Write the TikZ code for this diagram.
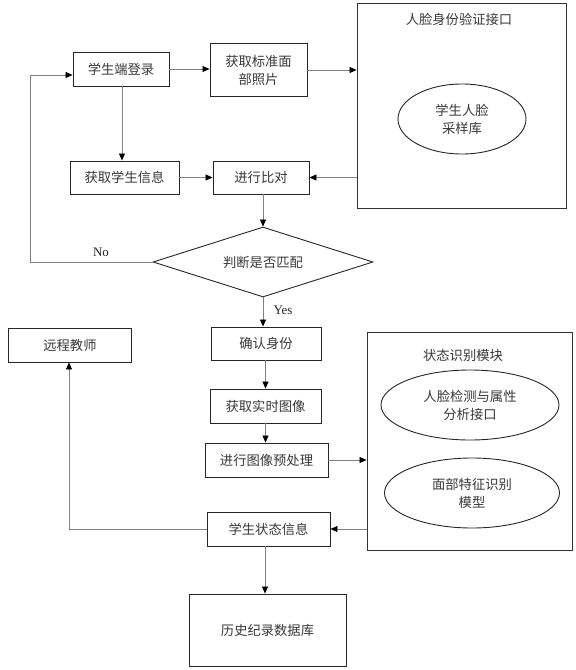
\documentclass[tikz,border=0pt]{standalone}
\usepackage{fontspec}
\setmainfont{Liberation Serif}
\newfontfamily\cjk{Noto Sans CJK SC}
\usetikzlibrary{shapes.geometric,arrows.meta}
\begin{document}
\begin{tikzpicture}[x=1pt,y=-1pt,
  every node/.style={font=\cjk\fontsize{13.3}{18}\selectfont, text=black!78, align=center, inner sep=0pt},
  box/.style={draw=black!85, line width=0.9pt, rectangle, fill=white},
  bigbox/.style={draw=black!80, line width=0.9pt, rectangle},
  oval/.style={draw=black!85, line width=0.9pt, ellipse},
  conn/.style={draw=black!50, line width=0.8pt, -{Triangle[length=7pt,width=6pt,fill=black,color=black]}},
  lab/.style={font=\fontsize{13}{15}\selectfont, text=black!85}]
\useasboundingbox (0,0) rectangle (576,670);
% top group
\node[box, minimum width=96pt, minimum height=34pt] (login) at (121,69) {学生端登录};
\node[box, minimum width=97pt, minimum height=53pt] (photo) at (258.5,70) {获取标准面\\部照片};
\node[bigbox, minimum width=209pt, minimum height=205pt] (verify) at (461.5,105.5) {};
\node (verifyt) at (459,19) {人脸身份验证接口};
\node[oval, minimum width=128pt, minimum height=70pt] (sample) at (462,119) {学生人脸\\采样库};
\node[box, minimum width=109pt, minimum height=33pt] (info) at (124.5,177.5) {获取学生信息};
\node[box, minimum width=96pt, minimum height=33pt] (compare) at (261,177.5) {进行比对};
\node[draw=black!85, line width=0.9pt, diamond, aspect=3.14, minimum width=220pt, minimum height=70pt] (judge) at (263,262) {判断是否匹配};
% middle group
\node[box, minimum width=110pt, minimum height=33pt] (confirm) at (266,343.5) {确认身份};
\node[box, minimum width=123pt, minimum height=34pt] (teacher) at (70,345) {远程教师};
\node[box, minimum width=111pt, minimum height=34pt] (realtime) at (265.5,406) {获取实时图像};
\node[box, minimum width=123pt, minimum height=34pt] (preproc) at (266.5,460) {进行图像预处理};
\node[bigbox, minimum width=205pt, minimum height=218pt] (state) at (469.5,441) {};
\node (statet) at (463,355) {状态识别模块};
\node[oval, minimum width=178pt, minimum height=70pt] (detect) at (470,405) {人脸检测与属性\\分析接口};
\node[oval, minimum width=175pt, minimum height=70pt] (feature) at (472,493) {面部特征识别\\模型};
\node[box, minimum width=123pt, minimum height=34pt] (status) at (268.5,529) {学生状态信息};
\node[box, minimum width=157pt, minimum height=72pt] (history) at (267.5,630) {历史纪录数据库};
% loop corners
\coordinate (nol) at (30,262);
\coordinate (noup) at (30,75);
\coordinate (tl) at (69,529);
% connectors
\draw[conn] (login.east) -- (photo.west |- login.east);
\draw[conn] (photo.east) -- (verify.west |- photo.east);
\draw[conn] (login.south -| 122,0) -- (info.north -| 122,0);
\draw[conn] (info.east) -- (compare.west);
\draw[conn] (verify.west |- compare.east) -- (compare.east);
\draw[conn] (compare.south -| judge.north) -- (judge.north);
\draw[conn] (judge.west) -- (nol) -- (noup) -- (login.west |- noup);
\node[lab] (nolab) at (101,252) {No};
\draw[conn] (judge.south) -- (judge.south |- confirm.north);
\node[lab] (yeslab) at (283,310) {Yes};
\draw[conn] (confirm.south -| 265.5,0) -- (realtime.north);
\draw[conn] (realtime.south) -- (realtime.south |- preproc.north);
\draw[conn] (preproc.east) -- (state.west |- preproc.east);
\draw[conn] (state.west |- status.east) -- (status.east);
\draw[conn] (status.west) -- (tl) -- (teacher.south -| tl);
\draw[conn] (status.south -| 265,0) -- (history.north -| 265,0);
\end{tikzpicture}
\end{document}
